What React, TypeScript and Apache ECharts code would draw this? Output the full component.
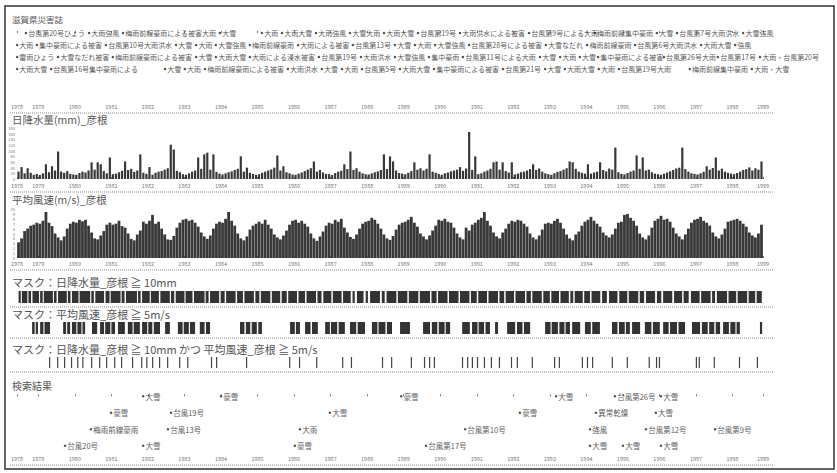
import React, { useEffect, useRef } from 'react';
import * as echarts from 'echarts';

// ---- axis range (fractional years) ----
const X_MIN = 1978.4167;
const X_MAX = 1998.8333;
const yearTicks: number[] = [
  1978.4167, 1979, 1980, 1981, 1982, 1983, 1984, 1985, 1986, 1987, 1988, 1989,
  1990, 1991, 1992, 1993, 1994, 1995, 1996, 1997, 1998, 1998.8333,
];

// ---- panel titles ----
const titles: string[] = [
  '滋賀県災害誌',
  '日降水量(mm)_彦根',
  '平均風速(m/s)_彦根',
  'マスク：日降水量_彦根 ≧ 10mm',
  'マスク：平均風速_彦根 ≧ 5m/s',
  'マスク：日降水量_彦根 ≧ 10mm かつ 平均風速_彦根 ≧ 5m/s',
  '検索結果',
];

// ---- monthly peak of daily precipitation (mm), Jun 1978 .. Oct 1998 ----
const precipMonthly: number[] = [
  26, 42, 20, 38, 22, 15, 18,
  14, 20, 52, 24, 45, 30, 97, 26, 22, 28, 18, 16,
  15, 21, 26, 23, 30, 59, 33, 59, 52, 28, 20, 76,
  17, 19, 24, 29, 62, 32, 36, 25, 30, 87, 22, 18,
  42, 15, 22, 26, 28, 33, 38, 121, 104, 29, 24, 17,
  15, 20, 26, 30, 76, 36, 87, 93, 33, 87, 25, 19,
  16, 20, 24, 27, 32, 36, 80, 26, 40, 22, 18, 15,
  17, 22, 26, 30, 34, 40, 83, 30, 45, 24, 20, 16,
  15, 19, 23, 28, 33, 38, 62, 26, 32, 23, 18, 17,
  14, 21, 26, 29, 52, 35, 97, 32, 38, 26, 20, 17,
  16, 20, 24, 27, 32, 87, 35, 80, 62, 30, 21, 19,
  17, 22, 28, 59, 33, 38, 30, 36, 87, 26, 22, 18,
  15, 20, 23, 27, 30, 33, 42, 29, 37, 166, 32, 80,
  17, 20, 26, 30, 36, 59, 62, 33, 59, 28, 23, 59,
  16, 19, 24, 26, 30, 35, 52, 32, 37, 26, 20, 17,
  15, 20, 25, 28, 33, 38, 62, 59, 36, 26, 22, 19,
  52, 19, 23, 26, 59, 32, 27, 37, 33, 111, 24, 18,
  16, 21, 26, 30, 83, 36, 76, 30, 33, 24, 19, 17,
  15, 19, 23, 27, 32, 37, 40, 111, 35, 26, 20, 18,
  16, 20, 25, 45, 33, 39, 76, 30, 36, 26, 22, 19,
  17, 21, 26, 32, 35, 41, 30, 38, 33, 62,
];

// ---- monthly peak of daily mean wind speed (m/s), Jun 1978 .. Oct 1998 ----
const windMonthly: number[] = [
  3.2, 4.0, 5.5, 6.0, 6.6, 6.8, 7.2,
  7.0, 7.6, 9.4, 7.2, 6.5, 5.0, 4.2, 3.6, 4.4, 6.0, 7.0, 7.4,
  7.2, 7.8, 7.5, 7.8, 6.6, 5.2, 4.0, 3.8, 4.6, 5.5, 6.8, 7.2,
  6.8, 7.0, 7.6, 6.5, 6.2, 5.0, 3.9, 3.6, 4.8, 5.6, 7.4, 7.0,
  7.6, 8.8, 7.0, 7.4, 6.0, 4.8, 3.8, 3.7, 4.5, 6.2, 7.2, 7.8,
  8.0, 7.6, 7.8, 7.2, 6.4, 5.2, 4.4, 3.9, 4.6, 6.0, 7.0, 7.4,
  7.2, 8.0, 9.4, 7.6, 6.6, 5.0, 4.0, 3.6, 4.4, 5.8, 6.6, 7.0,
  7.4, 7.0, 7.8, 6.8, 6.0, 4.8, 4.2, 3.8, 4.6, 5.6, 6.8, 7.6,
  7.8, 7.2, 7.6, 7.0, 6.4, 5.0, 4.0, 3.5, 4.4, 5.4, 6.6, 7.2,
  7.0, 7.8, 7.4, 8.0, 6.2, 5.2, 4.3, 3.9, 4.8, 6.0, 7.0, 7.4,
  7.6, 8.2, 7.8, 7.0, 6.0, 4.8, 4.0, 3.7, 4.5, 5.8, 6.8, 7.2,
  7.4, 7.8, 8.4, 7.2, 6.4, 5.0, 4.4, 3.8, 4.6, 5.6, 6.6, 7.8,
  7.6, 8.0, 7.4, 7.2, 6.2, 5.0, 4.2, 3.8, 6.2, 5.6, 6.8, 7.2,
  7.8, 8.2, 9.4, 7.6, 6.6, 5.2, 4.4, 4.0, 5.2, 6.0, 7.0, 7.6,
  7.4, 7.8, 7.6, 7.0, 6.4, 5.0, 4.2, 3.8, 4.6, 5.8, 7.0, 7.2,
  7.0, 7.6, 8.0, 7.2, 6.0, 4.8, 4.0, 3.6, 4.8, 5.4, 6.6, 7.4,
  7.8, 8.4, 7.6, 7.0, 6.4, 5.2, 4.6, 4.2, 4.8, 6.0, 7.2, 7.4,
  8.8, 9.0, 8.2, 7.6, 6.6, 5.0, 4.2, 3.8, 4.6, 6.2, 7.6, 8.0,
  8.6, 7.8, 8.0, 7.4, 6.2, 5.0, 4.4, 3.8, 4.8, 6.0, 7.2, 7.8,
  8.0, 8.4, 7.6, 7.2, 6.6, 5.2, 4.4, 4.0, 4.8, 6.0, 7.4, 7.6,
  7.8, 8.0, 7.6, 7.0, 6.4, 5.2, 4.6, 4.2, 5.0, 6.8,
];

// ---- mask periods [start, end] in fractional years ----
const mask1Runs: [number, number][] = [
  [1978.46, 1978.52], [1978.55, 1978.70], [1978.73, 1978.80], [1978.84, 1979.02], [1979.05, 1979.12],
  [1979.15, 1979.40], [1979.43, 1979.50], [1979.54, 1979.78], [1979.81, 1979.88], [1979.92, 1980.10],
  [1980.13, 1980.42], [1980.45, 1980.52], [1980.56, 1980.80], [1980.84, 1980.95], [1980.98, 1981.25],
  [1981.28, 1981.36], [1981.40, 1981.70], [1981.73, 1981.80], [1981.84, 1982.05], [1982.08, 1982.30],
  [1982.34, 1982.60], [1982.63, 1982.72], [1982.76, 1983.00], [1983.03, 1983.22], [1983.26, 1983.55],
  [1983.58, 1983.66], [1983.70, 1983.95], [1983.99, 1984.10], [1984.14, 1984.40], [1984.44, 1984.60],
  [1984.64, 1984.90], [1984.94, 1985.05], [1985.09, 1985.35], [1985.39, 1985.62], [1985.66, 1985.80],
  [1985.84, 1986.08], [1986.12, 1986.30], [1986.34, 1986.60], [1986.64, 1986.75], [1986.80, 1987.02],
  [1987.06, 1987.30], [1987.34, 1987.55], [1987.60, 1987.66], [1987.72, 1987.90], [1987.96, 1988.02],
  [1988.08, 1988.35], [1988.40, 1988.48], [1988.53, 1988.80], [1988.84, 1989.10], [1989.14, 1989.40],
  [1989.44, 1989.72], [1989.76, 1989.90], [1989.94, 1990.20], [1990.24, 1990.50], [1990.54, 1990.80],
  [1990.84, 1991.00], [1991.04, 1991.28], [1991.32, 1991.58], [1991.62, 1991.75], [1991.79, 1992.02],
  [1992.06, 1992.32], [1992.36, 1992.48], [1992.52, 1992.78], [1992.82, 1993.00], [1993.04, 1993.25],
  [1993.29, 1993.52], [1993.56, 1993.64], [1993.68, 1993.90], [1993.94, 1994.10], [1994.14, 1994.38],
  [1994.43, 1994.56], [1994.62, 1994.85], [1994.90, 1995.12], [1995.16, 1995.42], [1995.46, 1995.58],
  [1995.63, 1995.88], [1995.93, 1996.05], [1996.10, 1996.35], [1996.40, 1996.62], [1996.66, 1996.80],
  [1996.86, 1997.10], [1997.14, 1997.40], [1997.44, 1997.52], [1997.57, 1997.85], [1997.89, 1998.10],
  [1998.14, 1998.40], [1998.44, 1998.62], [1998.66, 1998.80],
];

const mask2Runs: [number, number][] = [
  [1978.83, 1978.90], [1978.93, 1978.99], [1979.05, 1979.14], [1979.17, 1979.32], [1979.68, 1979.76],
  [1979.79, 1979.87], [1979.92, 1980.04], [1980.07, 1980.18], [1980.21, 1980.28], [1980.47, 1980.61],
  [1980.69, 1980.80], [1980.83, 1980.97], [1981.00, 1981.10], [1981.18, 1981.37], [1981.45, 1981.58],
  [1981.61, 1981.78], [1981.84, 1981.98], [1982.01, 1982.12], [1982.16, 1982.33], [1982.47, 1982.60],
  [1982.82, 1982.95], [1982.98, 1983.12], [1983.15, 1983.29], [1983.42, 1983.55], [1983.59, 1983.70],
  [1984.52, 1984.64], [1984.68, 1984.80], [1984.84, 1984.98], [1985.02, 1985.12], [1985.89, 1986.02],
  [1986.05, 1986.16], [1986.30, 1986.45], [1986.49, 1986.65], [1986.85, 1986.98], [1987.01, 1987.18],
  [1987.22, 1987.39], [1987.53, 1987.70], [1987.74, 1987.94], [1988.13, 1988.28], [1988.31, 1988.50],
  [1988.54, 1988.68], [1988.90, 1989.17], [1989.53, 1989.72], [1989.77, 1989.92], [1989.96, 1990.12],
  [1990.15, 1990.27], [1990.60, 1990.81], [1990.87, 1991.02], [1991.05, 1991.20], [1991.24, 1991.36],
  [1991.50, 1991.58], [1991.83, 1992.05], [1992.10, 1992.25], [1992.29, 1992.46], [1992.87, 1993.02],
  [1993.05, 1993.22], [1993.26, 1993.40], [1993.43, 1993.55], [1993.61, 1993.83], [1993.96, 1994.12],
  [1994.16, 1994.37], [1994.70, 1994.85], [1994.89, 1995.05], [1995.08, 1995.19], [1995.25, 1995.47],
  [1995.60, 1995.78], [1995.82, 1996.01], [1996.10, 1996.25], [1996.29, 1996.48], [1996.52, 1996.70],
  [1996.89, 1997.11], [1997.16, 1997.32], [1997.36, 1997.50], [1997.54, 1997.66], [1997.74, 1997.90],
  [1997.94, 1998.08], [1998.11, 1998.20], [1998.75, 1998.81],
];

const mask3Days: number[] = [
  1979.31, 1979.53, 1979.72, 1979.91, 1980.08, 1980.22, 1980.46, 1980.68, 1980.87, 1981.09,
  1981.28, 1981.58, 1981.83, 1981.97, 1982.13, 1982.32, 1982.54, 1982.87, 1983.09, 1983.74,
  1983.88, 1984.70, 1985.88, 1986.15, 1986.62, 1987.33, 1987.57, 1988.42, 1988.67, 1989.21,
  1989.57, 1989.71, 1989.84, 1990.61, 1990.75, 1990.88, 1991.02, 1991.21, 1991.40, 1991.62,
  1991.95, 1992.11, 1992.52, 1993.13, 1993.26, 1993.89, 1994.03, 1994.17, 1994.71, 1995.12,
  1995.72, 1995.92, 1996.00, 1997.01, 1997.09, 1997.50, 1998.19, 1998.68,
];

// ---- disaster records: [year, row, label] ----
const disasterEvents: [number, number, string][] = [
  [1978.66, 0, '台風第20号ひょう'], [1980.39, 0, '大雨強風'], [1981.32, 0, '梅雨前線豪雨による被害大雨'],
  [1983.97, 0, '大雪'], [1985.12, 0, '大雨'], [1985.67, 0, '大雨大雪'], [1986.60, 0, '大雨強風'],
  [1987.53, 0, '大雪大雨'], [1988.46, 0, '大雨大雪'], [1989.39, 0, '台風第19号'],
  [1990.54, 0, '大雨洪水による被害'], [1992.43, 0, '台風第9号による大雨'], [1994.23, 0, '梅雨前線集中豪雨'],
  [1995.93, 0, '大雪'], [1996.48, 0, '台風第7号大雨洪水'], [1998.29, 0, '大雪強風'],

  [1978.42, 1, '大雨'], [1978.96, 1, '集中豪雨による被害'], [1980.85, 1, '台風第10号大雨洪水'],
  [1982.77, 1, '大雪'], [1983.32, 1, '大雨'], [1983.86, 1, '大雪強風'], [1984.79, 1, '梅雨前線豪雨'],
  [1986.11, 1, '大雨による被害'], [1987.61, 1, '台風第13号'], [1988.76, 1, '大雪'], [1989.31, 1, '大雨'],
  [1989.86, 1, '大雪強風'], [1990.79, 1, '台風第28号による被害'], [1992.89, 1, '大雪なだれ'],
  [1994.02, 1, '梅雨前線豪雨'], [1995.33, 1, '台風第6号大雨洪水'], [1997.14, 1, '大雨大雪'],
  [1998.07, 1, '強風'],

  [1978.42, 2, '雷雨ひょう'], [1979.54, 2, '大雪なだれ被害'], [1981.04, 2, '梅雨前線豪雨による被害'],
  [1983.32, 2, '大雪'], [1983.86, 2, '大雨大雪'], [1984.79, 2, '大雨による浸水被害'], [1986.68, 2, '台風第19号'],
  [1987.83, 2, '大雨洪水'], [1988.76, 2, '大雪強風'], [1989.69, 2, '集中豪雨'], [1990.62, 2, '台風第11号による大雨'],
  [1992.73, 2, '大雪'], [1993.28, 2, '大雨'], [1993.82, 2, '大雪'], [1994.32, 2, '集中豪雨による被害'],
  [1996.12, 2, '台風第26号大雨'], [1997.60, 2, '台風第17号'], [1998.75, 2, '大雨・台風第20号'],

  [1978.42, 3, '大雨大雪'], [1979.35, 3, '台風第16号集中豪雨による'], [1982.47, 3, '大雪'], [1983.01, 3, '大雨'],
  [1983.56, 3, '梅雨前線豪雨による被害'], [1985.83, 3, '大雨洪水'], [1986.76, 3, '大雪'], [1987.31, 3, '大雨'],
  [1987.86, 3, '台風第5号'], [1988.90, 3, '大雨大雪'], [1989.83, 3, '集中豪雨による被害'], [1991.72, 3, '台風第21号'],
  [1992.87, 3, '大雪'], [1993.41, 3, '大雨大雪'], [1994.34, 3, '大雨'], [1994.89, 3, '台風第19号大雨'],
  [1996.83, 3, '梅雨前線集中豪雨'], [1998.53, 3, '大雨・大雪'],
];

// ---- search results: [year, row, label] ----
const resultEvents: [number, number, string][] = [
  [1981.87, 0, '大雪'], [1984.00, 0, '豪雪'], [1988.93, 0, '豪雪'], [1993.17, 0, '大雪'],
  [1994.78, 0, '台風第26号'], [1996.04, 0, '大雪'],
  [1980.99, 1, '豪雪'], [1982.63, 1, '台風19号'], [1986.98, 1, '大雪'], [1992.18, 1, '豪雪'],
  [1994.26, 1, '異常乾燥'], [1995.90, 1, '大雪'],
  [1980.44, 2, '梅雨前線豪雨'], [1982.55, 2, '台風13号'], [1986.16, 2, '大雨'], [1990.68, 2, '台風第10号'],
  [1994.10, 2, '強風'], [1995.63, 2, '台風第12号'], [1997.52, 2, '台風第9号'],
  [1979.73, 3, '台風20号'], [1981.87, 3, '大雪'], [1986.02, 3, '豪雪'], [1989.61, 3, '台風第17号'],
  [1994.10, 3, '大雪'], [1995.00, 3, '大雪'], [1996.04, 3, '大雪'],
];

const FONT = '"Noto Sans CJK JP", "Noto Sans", sans-serif';
const GRID_LEFT = 17;
const GRID_WIDTH = 746;

export default function App() {
  const ref = useRef<HTMLDivElement>(null);

  useEffect(() => {
    if (!ref.current) return;
    const chart = echarts.init(ref.current, undefined, { renderer: 'svg' });

    const grids = [
      { top: 27, height: 48 },   // disasters
      { top: 128, height: 51 },  // precipitation
      { top: 209, height: 49 },  // wind
      { top: 291, height: 12 },  // mask 1
      { top: 322, height: 12 },  // mask 2
      { top: 357, height: 11 },  // mask 3
      { top: 388, height: 66 },  // results
    ].map((g) => ({ left: GRID_LEFT, width: GRID_WIDTH, top: g.top, height: g.height, containLabel: false }));

    const sepY = [113, 192, 270, 307, 338, 372, 465];
    const titleY = [19, 119, 199, 282, 314, 349, 385];
    const titleSize = [8.5, 10.5, 10.5, 11, 11, 11, 10];
    const axisOffsets = [38, 13, 12, 0, 0, 0, 11];
    const showAxis = [true, true, true, false, false, false, true];

    const xAxes = grids.map((_, i) => ({
      type: 'value',
      gridIndex: i,
      min: X_MIN,
      max: X_MAX,
      offset: axisOffsets[i],
      axisLine: { show: false },
      splitLine: { show: false },
      axisTick: {
        show: showAxis[i],
        inside: true,
        length: 2,
        customValues: yearTicks,
        lineStyle: { color: '#777', width: 1 },
      },
      axisLabel: {
        show: showAxis[i],
        inside: true,
        customValues: yearTicks,
        fontSize: 5.5,
        color: '#777',
        margin: 3,
        fontFamily: FONT,
        formatter: (v: number) => String(Math.round(v)),
      },
    }));

    const hiddenY = (i: number, extra: any = {}) => ({
      type: 'value',
      gridIndex: i,
      show: false,
      ...extra,
    });

    const yAxes = [
      hiddenY(0, { min: -0.5, max: 3.5, inverse: true }),
      {
        type: 'value', gridIndex: 1, min: 0, max: 180, interval: 20,
        axisLine: { show: false }, axisTick: { show: false }, splitLine: { show: false },
        axisLabel: { fontSize: 4, color: '#777', margin: 2, fontFamily: FONT },
      },
      {
        type: 'value', gridIndex: 2, min: 0, max: 10, interval: 1,
        axisLine: { show: false }, axisTick: { show: false }, splitLine: { show: false },
        axisLabel: { fontSize: 4, color: '#777', margin: 2, fontFamily: FONT },
      },
      hiddenY(3, { min: 0, max: 1 }),
      hiddenY(4, { min: 0, max: 1 }),
      hiddenY(5, { min: 0, max: 1 }),
      hiddenY(6, { min: -0.5, max: 3.5, inverse: true }),
    ];

    const runRender = (color: string, minW: number) => (params: any, api: any) => {
      const s = api.coord([api.value(0), 0]);
      const e = api.coord([api.value(1), 0]);
      const cs = params.coordSys;
      return {
        type: 'rect',
        shape: { x: s[0], y: cs.y, width: Math.max(e[0] - s[0], minW), height: cs.height },
        style: { fill: color },
      };
    };

    const eventSeries = (idx: number, data: [number, number, string][], fs: number) => ({
      type: 'scatter',
      xAxisIndex: idx,
      yAxisIndex: idx,
      data,
      symbol: 'circle',
      symbolSize: 2.5,
      clip: false,
      itemStyle: { color: '#222' },
      encode: { x: 0, y: 1 },
      label: {
        show: true,
        position: 'right',
        distance: 1,
        offset: [0, 3],
        fontSize: fs,
        color: '#2a2a2a',
        fontFamily: FONT,
        formatter: (p: any) => p.data[2],
      },
      labelLayout: { hideOverlap: false },
    });

    const series: any[] = [
      eventSeries(0, disasterEvents, 7),
      {
        type: 'bar',
        xAxisIndex: 1,
        yAxisIndex: 1,
        barWidth: 2.2,
        itemStyle: { color: '#383838' },
        data: precipMonthly.map((v, i) => [X_MIN + (i + 0.5) / 12, v]),
      },
      {
        type: 'bar',
        xAxisIndex: 2,
        yAxisIndex: 2,
        barWidth: 2.8,
        itemStyle: { color: '#383838' },
        data: windMonthly.map((v, i) => [X_MIN + (i + 0.5) / 12, v]),
      },
      {
        type: 'custom',
        xAxisIndex: 3,
        yAxisIndex: 3,
        renderItem: runRender('#333', 1),
        encode: { x: [0, 1] },
        data: mask1Runs,
      },
      {
        type: 'custom',
        xAxisIndex: 4,
        yAxisIndex: 4,
        renderItem: runRender('#333', 1),
        encode: { x: [0, 1] },
        data: mask2Runs,
      },
      {
        type: 'custom',
        xAxisIndex: 5,
        yAxisIndex: 5,
        renderItem: (params: any, api: any) => {
          const p = api.coord([api.value(0), 0]);
          const cs = params.coordSys;
          return {
            type: 'rect',
            shape: { x: p[0] - 0.6, y: cs.y, width: 1.2, height: cs.height },
            style: { fill: '#444' },
          };
        },
        encode: { x: 0 },
        data: mask3Days.map((d) => [d]),
      },
      eventSeries(6, resultEvents, 7.5),
    ];

    const graphic: any[] = [
      {
        type: 'rect',
        shape: { x: 5, y: 6, width: 829, height: 463 },
        style: { fill: 'none', stroke: '#333', lineWidth: 1.5 },
        silent: true,
      },
      ...sepY.map((y) => ({
        type: 'line',
        shape: { x1: 10, y1: y, x2: 774, y2: y },
        style: { stroke: '#888', lineWidth: 1, lineDash: [1, 1] },
        silent: true,
      })),
      ...titles.map((t, i) => ({
        type: 'text',
        x: 12,
        y: titleY[i],
        style: {
          text: t,
          fill: '#555',
          fontSize: titleSize[i],
          fontFamily: FONT,
          verticalAlign: 'middle',
          align: 'left',
        },
        silent: true,
      })),
    ];

    chart.setOption({
      animation: false,
      backgroundColor: '#fff',
      textStyle: { fontFamily: FONT },
      grid: grids,
      xAxis: xAxes,
      yAxis: yAxes,
      series,
      graphic,
    });

    return () => chart.dispose();
  }, []);

  return (
    <div
      ref={ref}
      style={{ position: 'fixed', left: 0, top: 0, width: 837, height: 473, background: '#fff' }}
    />
  );
}
